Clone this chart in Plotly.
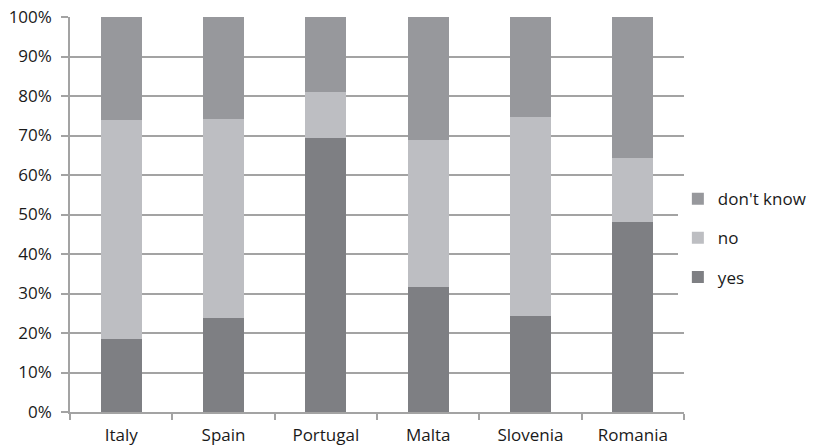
import plotly.graph_objects as go

countries = ["Italy", "Spain", "Portugal", "Malta", "Slovenia", "Romania"]
yes = [18.4, 23.8, 69.4, 31.6, 24.3, 48.1]
no = [55.6, 50.5, 11.5, 37.2, 50.4, 16.1]
dont_know = [26.0, 25.7, 19.1, 31.2, 25.3, 35.8]
tick_vals = [0, 10, 20, 30, 40, 50, 60, 70, 80, 90, 100]
tick_text = [f"{v}%" for v in tick_vals]

colors = {"yes": "#7e7f83", "no": "#bdbec2", "don't know": "#97989c"}

fig = go.Figure()
for name, vals, grp, rank in [("yes", yes, "g1", 3), ("no", no, "g2", 2), ("don't know", dont_know, "g3", 1)]:
    fig.add_trace(go.Bar(x=countries, y=vals, name=name, marker_color=colors[name],
                         marker_line_width=0, legendgroup=grp, legendrank=rank))

fig.update_layout(
    barmode="stack",
    bargap=0.6,
    width=813, height=445,
    margin=dict(l=70, r=129, t=17, b=33, autoexpand=False),
    plot_bgcolor="white", paper_bgcolor="white",
    font=dict(family="Open Sans, sans-serif", size=17, color="#1a1a1a"),
    showlegend=True,
    legend=dict(x=0.99, xanchor="left", y=0.44, yanchor="middle",
                traceorder="grouped", tracegroupgap=14,
                font=dict(size=17), itemwidth=30),
)
fig.update_yaxes(range=[0, 100], tickvals=tick_vals, ticktext=tick_text,
                 showgrid=True, gridcolor="#a3a3a3", gridwidth=1.5,
                 showline=True, linecolor="#a3a3a3", linewidth=1.5,
                 ticks="outside", ticklen=7, tickcolor="#a3a3a3", tickwidth=1.5,
                 zeroline=False, automargin=False, ticklabelstandoff=6)
fig.update_xaxes(showline=True, linecolor="#a3a3a3", linewidth=1.5,
                 ticks="outside", tickson="boundaries", ticklen=6,
                 tickcolor="#a3a3a3", tickwidth=1.5, showgrid=False,
                 automargin=False, ticklabelstandoff=7)

fig.write_html("out.html")
